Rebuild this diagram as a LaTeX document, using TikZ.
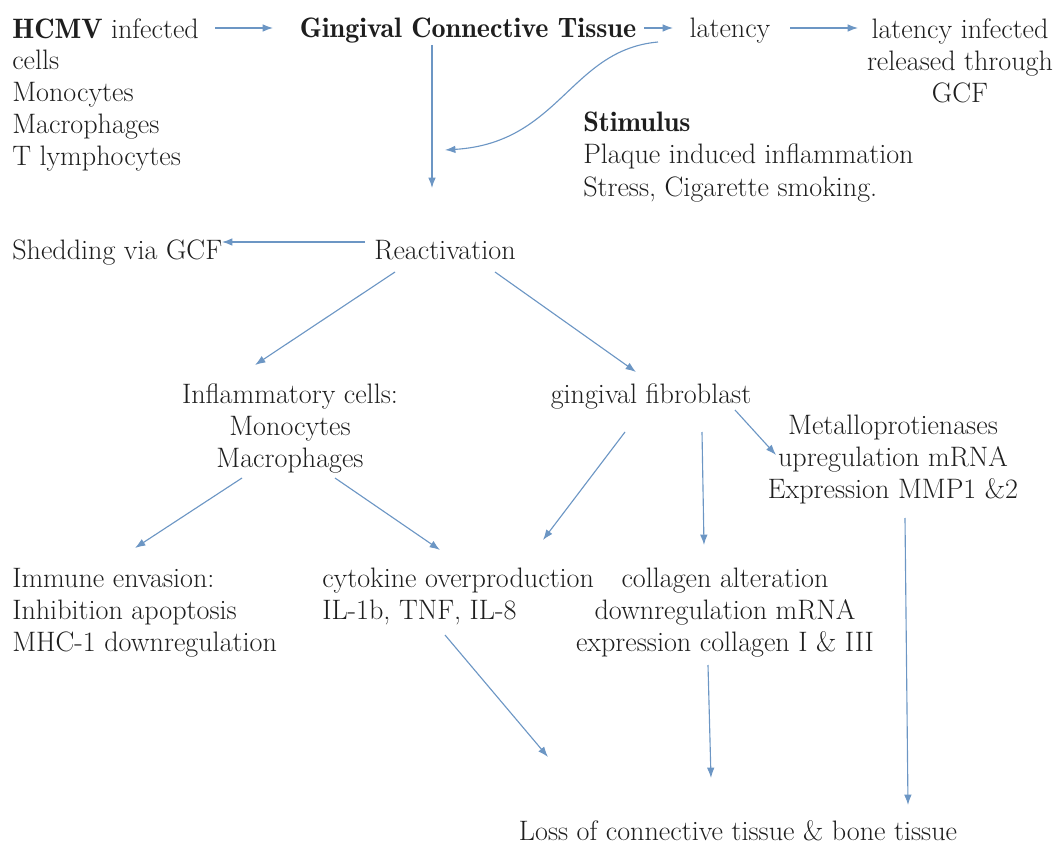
\documentclass[tikz,border=0pt]{standalone}
\usetikzlibrary{arrows.meta,calc}
\definecolor{arrowblue}{RGB}{108,150,196}
\definecolor{inkgray}{RGB}{30,30,30}
\newcommand{\hl}[1]{{\fontseries{b}\selectfont #1}}
\begin{document}
\begin{tikzpicture}[
    x=0.025cm, y=-0.025cm,
    txt/.style={inner sep=0pt, text=inkgray, font=\fontsize{20}{22.8}\selectfont},
    arrow/.style={-{Latex[length=2.6mm,width=1.9mm]}, line width=0.8pt, draw=arrowblue}
]
    \useasboundingbox (0,0) rectangle (1060,846);

    % Top row: infection and latency
    \node[txt, anchor=north west] (hcmv) at (12,18) {\hl{HCMV} infected};
    \node[txt, anchor=north west, align=left] (cells) at (12,50) {cells\\Monocytes\\Macrophages\\T lymphocytes};
    \node[txt, anchor=north] (gct) at (468,18) {\hl{Gingival Connective Tissue}};
    \node[txt, anchor=north] (lat) at (730,18) {latency};
    \node[txt, anchor=north, align=center] (rel) at (960,18) {latency infected\\released through\\GCF};
    \node[txt, anchor=north west, align=left] (stim) at (583,112) {\hl{Stimulus}\\Plaque induced inflammation\\Stress, Cigarette smoking.};

    \draw[arrow] ($(hcmv.north west)+(203,10)$) -- ($(gct.north)+(-195,10)$);
    \draw[arrow] ($(gct.north)+(176,10)$) -- ($(lat.north)+(-57,10)$);
    \draw[arrow] ($(lat.north)+(60,10)$) -- ($(rel.north)+(-102,10)$);

    % Reactivation
    \node[txt, anchor=north west] (shed) at (12,240) {Shedding via GCF};
    \node[txt, anchor=north] (react) at (445,240) {Reactivation};
    \coordinate (join) at ($(react.north)+(0,-90)$);

    \draw[arrow] ($(gct.north)+(-36,27)$) -- ($(react.north)+(-13,-52)$);
    \draw[arrow] ($(lat.north)+(-72,24)$) .. controls +(-88,8) and +(115,-7) .. (join);
    \draw[arrow] ($(react.north)+(-80,2)$) -- ($(shed.north west)+(210,2)$);

    % Inflammatory cells and fibroblast
    \node[txt, anchor=north, align=center] (infl) at (290,383) {Inflammatory cells:\\Monocytes\\Macrophages};
    \node[txt, anchor=north] (fib) at (651,383) {gingival fibroblast};
    \node[txt, anchor=north, align=center] (mmp) at (893,415) {Metalloprotienases\\upregulation mRNA\\Expression MMP1 \&2};

    \draw[arrow] ($(react.north)+(-50,32)$) -- ($(infl.north)+(-35,-18)$);
    \draw[arrow] ($(react.north)+(50,32)$) -- ($(fib.north)+(-15,-11)$);
    \draw[arrow] ($(fib.north)+(84,27)$) -- ($(mmp.north)+(-117,40)$);

    % Effects
    \node[txt, anchor=north west, align=left] (immune) at (12,568) {Immune envasion:\\Inhibition apoptosis\\MHC-1 downregulation};
    \node[txt, anchor=north west, align=left] (cyto) at (322,568) {cytokine overproduction\\ IL-1b, TNF, IL-8};
    \node[txt, anchor=north, align=center] (coll) at (725,568) {collagen alteration\\downregulation mRNA\\expression collagen I \& III};

    \draw[arrow] ($(infl.north)+(-48,95)$) -- ($(immune.north west)+(123,-20)$);
    \draw[arrow] ($(infl.north)+(45,95)$) -- ($(cyto.north west)+(118,-18)$);
    \draw[arrow] ($(fib.north)+(-26,49)$) -- ($(cyto.north west)+(221,-28)$);
    \draw[arrow] ($(fib.north)+(51,49)$) -- ($(coll.north)+(-21,-23)$);

    % Outcome
    \node[txt, anchor=north] (loss) at (738,820) {Loss of connective tissue \& bone tissue};

    \draw[arrow] ($(cyto.north west)+(123,67)$) -- ($(loss.north)+(-190,-63)$);
    \draw[arrow] ($(coll.north)+(-17,97)$) -- ($(loss.north)+(-27,-42)$);
    \draw[arrow] ($(mmp.north)+(12,103)$) -- ($(loss.north)+(170,-15)$);
\end{tikzpicture}
\end{document}
